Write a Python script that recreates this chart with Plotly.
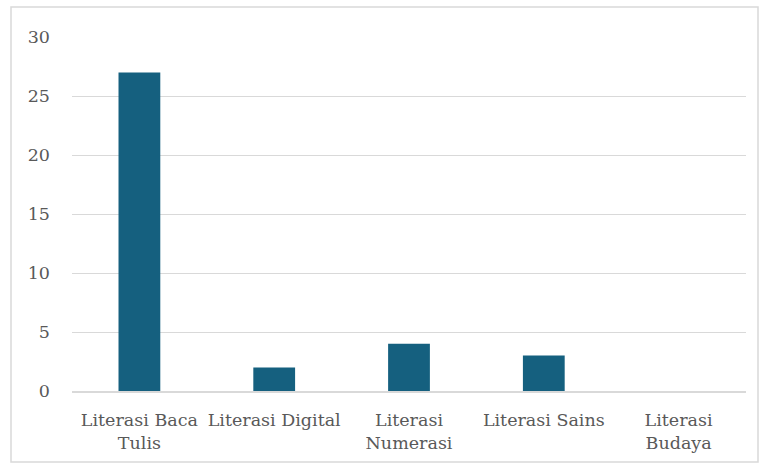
import plotly.graph_objects as go

categories = ["Literasi Baca<br>Tulis", "Literasi Digital", "Literasi<br>Numerasi", "Literasi Sains", "Literasi<br>Budaya"]
values = [27, 2, 4, 3, 0]
y_ticks = [0, 5, 10, 15, 20, 25, 30]

W, H = 766, 467
ml, mr, mt, mb = 72, 20, 37, 76
pw, ph = W - ml - mr, H - mt - mb

fig = go.Figure(go.Bar(x=categories, y=values, marker_color="#15607F", marker_line_width=0))

fig.update_layout(
    width=W, height=H,
    margin=dict(l=ml, r=mr, t=mt, b=mb, pad=0),
    paper_bgcolor="white", plot_bgcolor="white",
    bargap=0.69,
    showlegend=False,
    font=dict(family="DejaVu Serif", size=17.5, color="#595959"),
    xaxis=dict(showgrid=False, showline=True, linecolor="#d9d9d9", linewidth=1.5,
               ticks="", ticklabelstandoff=12, tickfont=dict(size=17.5, color="#595959")),
    yaxis=dict(range=[0, 30], tickvals=y_ticks, showgrid=True, gridcolor="#d9d9d9",
               gridwidth=1, zeroline=False, showline=False, ticks="",
               ticklabelstandoff=21, tickfont=dict(size=17.5, color="#595959")),
    shapes=[dict(type="rect", xref="paper", yref="paper",
                 x0=(11 - ml) / pw, x1=(758 - ml) / pw,
                 y0=(H - mb - 462) / ph, y1=(H - mb - 7) / ph,
                 line=dict(color="#d9d9d9", width=1.5), fillcolor="rgba(0,0,0,0)", layer="below")],
)

fig.write_html("out.html")
